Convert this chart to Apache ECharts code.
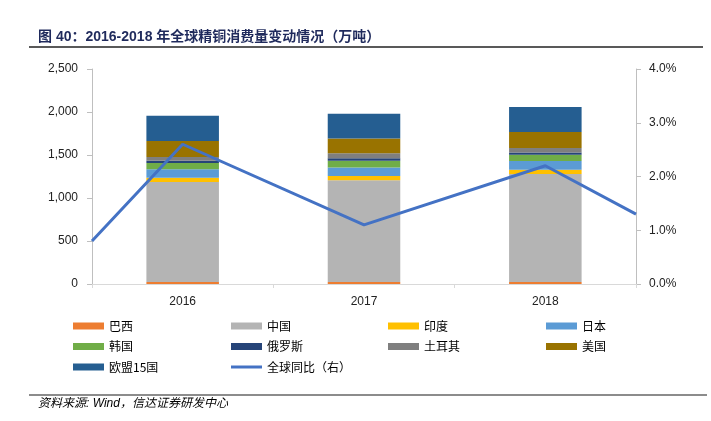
<!DOCTYPE html>
<html>
<head>
<meta charset="utf-8">
<script src="https://cdn.jsdelivr.net/npm/echarts@6/dist/echarts.min.js"></script>
<style>
  html, body { margin: 0; padding: 0; background: #fff; }
  #main { width: 711px; height: 421px; }
</style>
</head>
<body>
<div id="main"></div>
<script>
// 年份
var years = ['2016', '2017', '2018'];

// 各国精铜消费量（万吨），自下而上堆叠
var brazil = [22, 22, 22];
var china = [1164, 1183, 1257];
var india = [50, 51, 50];
var japan = [97, 100, 101];
var korea = [74, 78, 73];
var russia = [27, 27, 27];
var turkey = [43, 58, 51];
var usa = [186, 174, 186];
var eu15 = [294, 287, 291];

// 全球同比（右轴，%），两端延伸到坐标轴边缘
var yoyPos = [-0.5, 0, 1, 2, 2.5];
var yoy = [0.8, 2.6, 1.1, 2.2, 1.3];

var leftTicks = [0, 500, 1000, 1500, 2000, 2500];
var rightTicks = [0, 1, 2, 3, 4];

var barSeries = [
    {name: '巴西', data: brazil, color: '#ED7D31'},
    {name: '中国', data: china, color: '#B4B4B4'},
    {name: '印度', data: india, color: '#FFC000'},
    {name: '日本', data: japan, color: '#5B9BD5'},
    {name: '韩国', data: korea, color: '#70AD47'},
    {name: '俄罗斯', data: russia, color: '#264478'},
    {name: '土耳其', data: turkey, color: '#7F7F7F'},
    {name: '美国', data: usa, color: '#997300'},
    {name: '欧盟15国', data: eu15, color: '#255E91'}
];

var series = barSeries.map(function (s) {
    return {
        name: s.name,
        type: 'bar',
        stack: 'total',
        barWidth: '40%',
        data: s.data,
        itemStyle: {color: s.color},
        emphasis: {disabled: true}
    };
});

series.push({
    name: '全球同比（右）',
    type: 'line',
    xAxisIndex: 1,
    yAxisIndex: 1,
    symbol: 'none',
    data: yoyPos.map(function (x, i) { return [x, yoy[i]]; }),
    lineStyle: {color: '#4472C4', width: 3},
    itemStyle: {color: '#4472C4'},
    z: 5
});

var legendText = {color: '#000', fontSize: 12, lineHeight: 14, fontFamily: 'Noto Sans CJK SC'};

// 细线图例：上下留空的路径，使线条只有约 3px 高
var lineIcon = 'path://M0,0 M0,7 M0,2 L31,2 L31,5 L0,5 Z';

function col(left, names) {
    return {
        orient: 'vertical',
        left: left,
        top: 319,
        padding: 0,
        itemWidth: 31,
        itemHeight: 7,
        itemGap: 6.5,
        selectedMode: false,
        textStyle: legendText,
        data: names.map(function (n) {
            return {name: n, icon: n === '全球同比（右）' ? lineIcon : 'rect'};
        })
    };
}

var chart = echarts.init(document.getElementById('main'));

var option = {
    animation: false,
    backgroundColor: '#ffffff',
    grid: {left: 92, right: 75, top: 69, bottom: 137},
    legend: [
        col(73, ['巴西', '韩国', '欧盟15国']),
        col(231, ['中国', '俄罗斯', '全球同比（右）']),
        col(388, ['印度', '土耳其']),
        col(546, ['日本', '美国'])
    ],
    xAxis: [
        {
            type: 'category',
            data: years,
            axisLine: {lineStyle: {color: '#D9D9D9'}},
            axisTick: {show: true, length: 4, lineStyle: {color: '#D9D9D9'}},
            axisLabel: {color: '#222', fontSize: 12, margin: 12, fontFamily: 'Liberation Sans'}
        },
        {
            type: 'value',
            min: -0.5,
            max: 2.5,
            show: false
        }
    ],
    yAxis: [
        {
            type: 'value',
            min: leftTicks[0],
            max: leftTicks[leftTicks.length - 1],
            interval: 500,
            splitLine: {show: false},
            axisLine: {show: true, onZero: false, lineStyle: {color: '#BFBFBF'}},
            axisTick: {show: true, length: 5, lineStyle: {color: '#BFBFBF'}},
            axisLabel: {
                color: '#222', fontSize: 12, margin: 14, fontFamily: 'Liberation Sans',
                formatter: function (v) { return v.toLocaleString('en-US'); }
            }
        },
        {
            type: 'value',
            min: rightTicks[0],
            max: rightTicks[rightTicks.length - 1],
            interval: 1,
            position: 'right',
            splitLine: {show: false},
            axisLine: {show: true, onZero: false, lineStyle: {color: '#BFBFBF'}},
            axisTick: {show: true, length: 5, lineStyle: {color: '#BFBFBF'}},
            axisLabel: {
                color: '#222', fontSize: 12, margin: 13, fontFamily: 'Liberation Sans',
                formatter: function (v) { return v.toFixed(1) + '%'; }
            }
        }
    ],
    graphic: [
        {
            type: 'text',
            left: 38,
            top: 30,
            style: {
                text: '图 40：2016-2018 年全球精铜消费量变动情况（万吨）',
                fill: '#1F2A5C',
                font: 'bold 14px "Liberation Sans", "Noto Sans CJK SC"'
            }
        },
        {
            type: 'line',
            shape: {x1: 29, y1: 47, x2: 703, y2: 47},
            style: {stroke: '#222', lineWidth: 1.5}
        },
        {
            type: 'line',
            shape: {x1: 29, y1: 395, x2: 707, y2: 395},
            style: {stroke: '#8C8C8C', lineWidth: 2}
        },
        {
            type: 'text',
            left: 38,
            top: 398,
            style: {
                text: '资料来源: Wind，信达证券研发中心',
                fill: '#000',
                font: 'italic 12px "Liberation Sans", "Noto Sans CJK SC"'
            }
        }
    ],
    series: series
};

chart.setOption(option);
</script>
</body>
</html>
